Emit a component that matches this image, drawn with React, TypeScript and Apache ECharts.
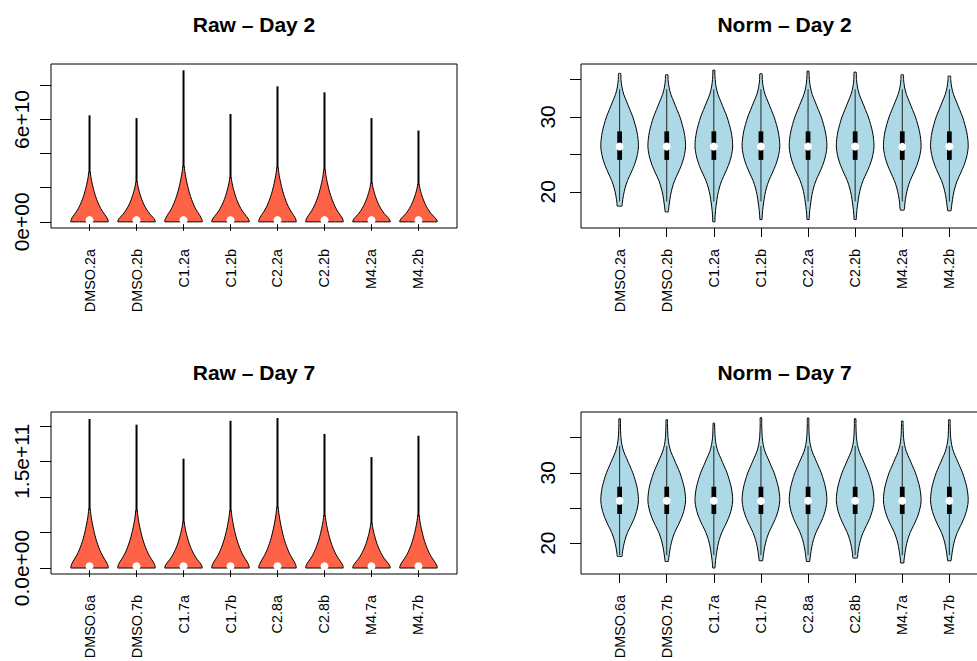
import React, { useEffect, useRef } from 'react';
import * as echarts from 'echarts';

const FONT = '"Liberation Sans", Arial, Helvetica, sans-serif';

// Sample names per day
const DAY2_SAMPLES = ['DMSO.2a', 'DMSO.2b', 'C1.2a', 'C1.2b', 'C2.2a', 'C2.2b', 'M4.2a', 'M4.2b'];
const DAY7_SAMPLES = ['DMSO.6a', 'DMSO.7b', 'C1.7a', 'C1.7b', 'C2.8a', 'C2.8b', 'M4.7a', 'M4.7b'];

// Raw intensities: min, height where the density body thins into a thread, max, median
const RAW_D2_MIN = [0, 0, 0, 0, 0, 0, 0, 0];
const RAW_D2_NECK = [2.94e10, 2.35e10, 3.28e10, 2.61e10, 3.2e10, 3.08e10, 2.29e10, 2.22e10];
const RAW_D2_MAX = [6.24e10, 6.08e10, 8.88e10, 6.32e10, 7.94e10, 7.59e10, 6.08e10, 5.35e10];
const RAW_D2_MEDIAN = [0.1e10, 0.1e10, 0.1e10, 0.1e10, 0.1e10, 0.1e10, 0.1e10, 0.1e10];

const RAW_D7_MIN = [0, 0, 0, 0, 0, 0, 0, 0];
const RAW_D7_NECK = [8.38e10, 8.14e10, 6.51e10, 8.14e10, 8.61e10, 7.45e10, 6.29e10, 7.45e10];
const RAW_D7_MAX = [20.95e10, 20.16e10, 15.37e10, 20.7e10, 21.1e10, 18.86e10, 15.6e10, 18.6e10];
const RAW_D7_MEDIAN = [0.24e10, 0.24e10, 0.24e10, 0.24e10, 0.24e10, 0.24e10, 0.24e10, 0.24e10];

// Normalised (log2) intensities: range, quartiles and whisker ends
const NORM_D2_MIN = [18.08, 17.31, 15.97, 16.29, 16.29, 16.29, 17.54, 17.45];
const NORM_D2_MAX = [35.82, 35.64, 36.26, 35.78, 36.13, 35.99, 35.64, 35.46];
const NORM_D2_Q1 = [24.26, 24.26, 24.26, 24.26, 24.26, 24.26, 24.26, 24.26];
const NORM_D2_MEDIAN = [26.05, 26.05, 26.05, 26.05, 26.05, 26.05, 26.0, 26.05];
const NORM_D2_Q3 = [28.07, 28.07, 28.07, 28.07, 28.07, 28.07, 28.07, 28.07];
const NORM_D2_WLO = [18.7, 18.7, 18.7, 18.7, 18.7, 18.7, 18.7, 18.7];
const NORM_D2_WHI = [33.7, 33.7, 33.7, 33.7, 33.7, 33.7, 33.7, 33.7];

const NORM_D7_MIN = [18.1, 17.39, 16.46, 17.49, 17.39, 17.87, 17.17, 17.49];
const NORM_D7_MAX = [37.7, 37.56, 37.08, 37.85, 37.8, 37.7, 37.37, 37.56];
const NORM_D7_Q1 = [24.14, 24.14, 24.14, 24.14, 24.14, 24.14, 24.14, 24.14];
const NORM_D7_MEDIAN = [26.03, 26.03, 26.03, 26.0, 26.03, 26.03, 26.03, 26.03];
const NORM_D7_Q3 = [28.02, 28.02, 28.02, 28.02, 28.02, 28.02, 28.02, 28.02];
const NORM_D7_WLO = [18.3, 18.3, 18.3, 18.3, 18.3, 18.3, 18.3, 18.3];
const NORM_D7_WHI = [33.8, 33.8, 33.8, 33.8, 33.8, 33.8, 33.8, 33.8];

// Density outlines (relative half-width)
const RAW_PROFILE_H = [0, 0.03, 0.08, 0.15, 0.22, 0.3, 0.4, 0.5, 0.6, 0.7, 0.8, 0.9, 1.0];
const RAW_PROFILE_W = [1.0, 0.99, 0.93, 0.8, 0.67, 0.55, 0.43, 0.33, 0.25, 0.18, 0.12, 0.07, 0.03];
const NORM_PROFILE_Y = [15.5, 16.5, 17.5, 18.5, 19.5, 20.5, 21.5, 22.5, 23.5, 24.5, 25.5, 26.2, 27, 28, 29, 30, 31, 32, 33, 34, 35, 36, 37, 38];
const NORM_PROFILE_W = [0.04, 0.06, 0.09, 0.14, 0.2, 0.29, 0.42, 0.6, 0.77, 0.9, 0.98, 1.0, 0.98, 0.92, 0.82, 0.7, 0.54, 0.38, 0.22, 0.12, 0.07, 0.05, 0.04, 0.035];

// Axis ticks and labels
const X_POSITIONS = [1, 2, 3, 4, 5, 6, 7, 8];
const RAW_D2_TICKS = [0, 2e10, 4e10, 6e10, 8e10];
const RAW_D2_LABEL_AT = [0, 6e10];
const RAW_D2_LABELS = ['0e+00', '6e+10'];
const RAW_D7_TICKS = [0, 5e10, 1e11, 1.5e11, 2e11];
const RAW_D7_LABEL_AT = [0, 1.5e11];
const RAW_D7_LABELS = ['0.0e+00', '1.5e+11'];
const NORM_TICKS = [20, 25, 30, 35];
const NORM_LABEL_AT = [20, 30];
const NORM_LABELS = ['20', '30'];

const HALF_WIDTH = 0.4;
const BOX_HALF = 0.05;

const interp = (xs: number[], ys: number[], x: number) => {
  if (x <= xs[0]) return ys[0];
  for (let k = 1; k < xs.length; k++) {
    if (x <= xs[k]) {
      const t = (x - xs[k - 1]) / (xs[k] - xs[k - 1]);
      return ys[k - 1] + t * (ys[k] - ys[k - 1]);
    }
  }
  return ys[ys.length - 1];
};

function outline(api: any, cx: number, values: number[], widths: number[]) {
  const half = api.size([HALF_WIDTH, 0])[0];
  const right = values.map((v, k) => {
    const p = api.coord([cx, v]);
    return [p[0] + half * widths[k], p[1]];
  });
  const left = values
    .map((v, k) => {
      const p = api.coord([cx, v]);
      return [p[0] - half * widths[k], p[1]];
    })
    .reverse();
  return right.concat(left);
}

const renderRaw = (_params: any, api: any) => {
  const cx = api.value(0);
  const lo = api.value(1);
  const neck = api.value(2);
  const hi = api.value(3);
  const med = api.value(4);
  const ys = RAW_PROFILE_H.map((h) => lo + h * (neck - lo));
  const pts = outline(api, cx, ys, RAW_PROFILE_W);
  const pNeck = api.coord([cx, neck]);
  const pHi = api.coord([cx, hi]);
  const pMed = api.coord([cx, med]);
  return {
    type: 'group',
    children: [
      {
        type: 'line',
        shape: { x1: pNeck[0], y1: pNeck[1] + 2, x2: pHi[0], y2: pHi[1] },
        style: { stroke: '#000', lineWidth: 2 },
      },
      {
        type: 'polygon',
        shape: { points: pts, smooth: 0.3, smoothConstraint: [pts[0], pts[0]] },
        style: { fill: '#FF6347', stroke: '#000', lineWidth: 1 },
      },
      {
        type: 'circle',
        shape: { cx: pMed[0], cy: pMed[1], r: 4 },
        style: { fill: '#fff' },
      },
    ],
  };
};

const renderNorm = (_params: any, api: any) => {
  const cx = api.value(0);
  const lo = api.value(1);
  const hi = api.value(2);
  const q1 = api.value(3);
  const med = api.value(4);
  const q3 = api.value(5);
  const wlo = api.value(6);
  const whi = api.value(7);
  const ys = [lo, ...NORM_PROFILE_Y.filter((y) => y > lo && y < hi), hi];
  const ws = ys.map((y) => interp(NORM_PROFILE_Y, NORM_PROFILE_W, y));
  const pts = outline(api, cx, ys, ws);
  const pLo = api.coord([cx, wlo]);
  const pHi = api.coord([cx, whi]);
  const pQ1 = api.coord([cx, q1]);
  const pQ3 = api.coord([cx, q3]);
  const pMed = api.coord([cx, med]);
  const bh = api.size([BOX_HALF, 0])[0];
  return {
    type: 'group',
    children: [
      {
        type: 'polygon',
        shape: { points: pts, smooth: 0.3, smoothConstraint: [pts[0], pts[0]] },
        style: { fill: '#ADD8E6', stroke: '#000', lineWidth: 1 },
      },
      {
        type: 'line',
        shape: { x1: pLo[0], y1: pLo[1], x2: pHi[0], y2: pHi[1] },
        style: { stroke: '#222', lineWidth: 1 },
      },
      {
        type: 'rect',
        shape: { x: pQ3[0] - bh, y: pQ3[1], width: 2 * bh, height: pQ1[1] - pQ3[1] },
        style: { fill: '#000' },
      },
      {
        type: 'circle',
        shape: { cx: pMed[0], cy: pMed[1], r: 4 },
        style: { fill: '#fff' },
      },
    ],
  };
};

const pickLabel = (at: number[], text: string[]) => (v: number) => {
  const k = at.findIndex((a) => Math.abs(a - v) <= 1e-6 * Math.max(1, Math.abs(a)));
  return k >= 0 ? text[k] : '';
};

const xAxisFor = (gridIndex: number, names: string[]) => ({
  gridIndex,
  type: 'value',
  min: 0.18,
  max: 8.82,
  axisLine: { show: false },
  splitLine: { show: false },
  axisTick: { show: true, length: 9, customValues: X_POSITIONS, lineStyle: { color: '#000', width: 1 } },
  axisLabel: {
    customValues: X_POSITIONS,
    formatter: (v: number) => names[Math.round(v) - 1] ?? '',
    rotate: 90,
    margin: 21,
    fontSize: 14.4,
    fontFamily: FONT,
    color: '#000',
  },
});

const yAxisFor = (
  gridIndex: number,
  min: number,
  max: number,
  ticks: number[],
  at: number[],
  text: string[],
  margin: number,
) => ({
  gridIndex,
  type: 'value',
  min,
  max,
  axisLine: { show: false },
  splitLine: { show: false },
  axisTick: { show: true, length: 11, customValues: ticks, lineStyle: { color: '#000', width: 1 } },
  axisLabel: {
    customValues: at,
    formatter: pickLabel(at, text),
    rotate: 90,
    margin,
    fontSize: 21,
    fontFamily: FONT,
    color: '#000',
  },
});

const gridBox = (left: number, top: number, width: number, height: number) => ({
  left,
  top,
  width,
  height,
  show: true,
  borderColor: '#000',
  borderWidth: 1,
  backgroundColor: 'transparent',
  containLabel: false,
  outerBoundsMode: 'none',
});

const titleText = (text: string, x: number, y: number) => ({
  type: 'text',
  x,
  y,
  style: {
    text,
    align: 'center',
    verticalAlign: 'middle',
    fill: '#000',
    fontSize: 21,
    fontWeight: 'bold',
    fontFamily: FONT,
  },
});

export default function App() {
  const ref = useRef<HTMLDivElement>(null);

  useEffect(() => {
    if (!ref.current) return;
    const chart = echarts.init(ref.current, undefined, { renderer: 'svg' });

    const rawD2 = X_POSITIONS.map((x, i) => [x, RAW_D2_MIN[i], RAW_D2_NECK[i], RAW_D2_MAX[i], RAW_D2_MEDIAN[i]]);
    const rawD7 = X_POSITIONS.map((x, i) => [x, RAW_D7_MIN[i], RAW_D7_NECK[i], RAW_D7_MAX[i], RAW_D7_MEDIAN[i]]);
    const normD2 = X_POSITIONS.map((x, i) => [
      x, NORM_D2_MIN[i], NORM_D2_MAX[i], NORM_D2_Q1[i], NORM_D2_MEDIAN[i], NORM_D2_Q3[i], NORM_D2_WLO[i], NORM_D2_WHI[i],
    ]);
    const normD7 = X_POSITIONS.map((x, i) => [
      x, NORM_D7_MIN[i], NORM_D7_MAX[i], NORM_D7_Q1[i], NORM_D7_MEDIAN[i], NORM_D7_Q3[i], NORM_D7_WLO[i], NORM_D7_WHI[i],
    ]);

    chart.setOption({
      animation: false,
      backgroundColor: '#fff',
      textStyle: { fontFamily: FONT },
      grid: [
        gridBox(51, 64, 406, 164),
        gridBox(581, 64, 407, 164),
        gridBox(51, 412, 406, 162),
        gridBox(581, 412, 407, 162),
      ],
      xAxis: [
        xAxisFor(0, DAY2_SAMPLES),
        xAxisFor(1, DAY2_SAMPLES),
        xAxisFor(2, DAY7_SAMPLES),
        xAxisFor(3, DAY7_SAMPLES),
      ],
      yAxis: [
        yAxisFor(0, -0.36e10, 9.25e10, RAW_D2_TICKS, RAW_D2_LABEL_AT, RAW_D2_LABELS, 19),
        yAxisFor(1, 15.16, 37.07, NORM_TICKS, NORM_LABEL_AT, NORM_LABELS, 23),
        yAxisFor(2, -0.84e10, 21.94e10, RAW_D7_TICKS, RAW_D7_LABEL_AT, RAW_D7_LABELS, 19),
        yAxisFor(3, 15.61, 38.65, NORM_TICKS, NORM_LABEL_AT, NORM_LABELS, 23),
      ],
      graphic: [
        titleText('Raw – Day 2', 254, 24.5),
        titleText('Norm – Day 2', 784.5, 24.5),
        titleText('Raw – Day 7', 254, 372),
        titleText('Norm – Day 7', 784.5, 372),
      ],
      series: [
        { type: 'custom', xAxisIndex: 0, yAxisIndex: 0, data: rawD2, renderItem: renderRaw, encode: { x: 0, y: [1, 3] } },
        { type: 'custom', xAxisIndex: 1, yAxisIndex: 1, data: normD2, renderItem: renderNorm, encode: { x: 0, y: [1, 2] } },
        { type: 'custom', xAxisIndex: 2, yAxisIndex: 2, data: rawD7, renderItem: renderRaw, encode: { x: 0, y: [1, 3] } },
        { type: 'custom', xAxisIndex: 3, yAxisIndex: 3, data: normD7, renderItem: renderNorm, encode: { x: 0, y: [1, 2] } },
      ],
    });

    return () => chart.dispose();
  }, []);

  return (
    <div
      ref={ref}
      style={{ position: 'absolute', left: 0, top: 0, width: 977, height: 661, background: '#fff' }}
    />
  );
}
